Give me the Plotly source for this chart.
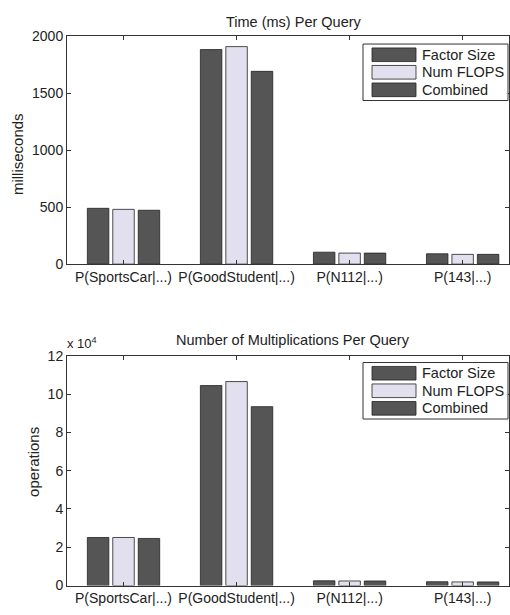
import plotly.graph_objects as go

categories = ["P(SportsCar|...)", "P(GoodStudent|...)", "P(N112|...)", "P(143|...)"]
series_names = ["Factor Size", "Num FLOPS", "Combined"]
time_factor = [490, 1883, 105, 91]
time_flops = [481, 1909, 97, 86]
time_combined = [473, 1692, 97, 86]
ops_factor = [25100, 104400, 2500, 2000]
ops_flops = [25100, 106500, 2400, 1900]
ops_combined = [24600, 93400, 2400, 1900]
time_ticks = [0, 500, 1000, 1500, 2000]
ops_ticks = [0, 20000, 40000, 60000, 80000, 100000, 120000]
ops_ticktext = ["0", "2", "4", "6", "8", "10", "12"]

colors = ["#555555", "#e2e0ef", "#555555"]
offsets = [-0.32, -0.095, 0.13]
xpos = [1, 2, 3, 4]

FONT = "Liberation Sans, Arial, sans-serif"
W, H = 510, 615

fig = go.Figure()
for i, (vals_t, vals_o) in enumerate(zip([time_factor, time_flops, time_combined],
                                        [ops_factor, ops_flops, ops_combined])):
    fig.add_trace(go.Bar(x=xpos, y=vals_t, name=series_names[i], width=0.19, offset=offsets[i],
                         marker=dict(color=colors[i], line=dict(color="#222222", width=0.8)),
                         xaxis="x", yaxis="y", showlegend=False))
    fig.add_trace(go.Bar(x=xpos, y=vals_o, name=series_names[i], width=0.19, offset=offsets[i],
                         marker=dict(color=colors[i], line=dict(color="#222222", width=0.8)),
                         xaxis="x2", yaxis="y2", showlegend=False))

xd = [67 / W, 509 / W]
top_dom = [(H - 263) / H, (H - 29) / H]
bot_dom = [(H - 593) / H, (H - 357) / H]

axis_common = dict(showline=True, linecolor="#333333", linewidth=1, mirror="ticks",
                   ticks="inside", ticklen=4, tickcolor="#333333", showgrid=False,
                   zeroline=False, tickfont=dict(family=FONT, size=14, color="#222222"))

fig.update_layout(
    width=W, height=H, margin=dict(l=0, r=0, t=0, b=0),
    paper_bgcolor="white", plot_bgcolor="white", barmode="overlay",
    font=dict(family=FONT, size=12, color="#222222"),
    xaxis=dict(domain=xd, anchor="y", range=[0.5, 4.41], tickvals=xpos, ticktext=categories, **axis_common),
    yaxis=dict(domain=top_dom, anchor="x", range=[0, 2000], tickvals=time_ticks, **axis_common),
    xaxis2=dict(domain=xd, anchor="y2", range=[0.5, 4.41], tickvals=xpos, ticktext=categories, **axis_common),
    yaxis2=dict(domain=bot_dom, anchor="x2", range=[0, 120000], tickvals=ops_ticks, ticktext=ops_ticktext, **axis_common),
)

def px(x):
    return x / W

def py(y):
    return (H - y) / H

ann = [
    dict(text="Time (ms) Per Query", x=px(294), y=py(14), size=14.5),
    dict(text="Number of Multiplications Per Query", x=px(293), y=py(341), size=14.5),
    dict(text="milliseconds", x=px(17), y=py(150), textangle=-90, size=15),
    dict(text="operations", x=px(34), y=py(466), textangle=-90, size=15),
    dict(text="x 10<sup>4</sup>", x=px(82), y=py(344), size=13),
]
annotations = []
for a in ann:
    size = a.pop("size")
    d = dict(xref="paper", yref="paper", showarrow=False, xanchor="center", yanchor="middle",
             font=dict(family=FONT, size=size, color="#222222"))
    d.update(a)
    annotations.append(d)

shapes = []
# manual legends (Matlab-style wide swatches)
for top in (37, 364):
    shapes.append(dict(type="rect", xref="paper", yref="paper", x0=px(363), x1=px(508),
                       y0=py(top + 58), y1=py(top), line=dict(color="#333333", width=1),
                       fillcolor="white", layer="above"))
    for j, name in enumerate(series_names):
        yc = top + 11 + j * 18
        shapes.append(dict(type="rect", xref="paper", yref="paper", x0=px(372), x1=px(416),
                           y0=py(yc + 7), y1=py(yc - 7), fillcolor=colors[j],
                           line=dict(color="#222222", width=0.8), layer="above"))
        annotations.append(dict(xref="paper", yref="paper", x=px(420), y=py(yc), text=name,
                                showarrow=False, xanchor="left", yanchor="middle",
                                font=dict(family=FONT, size=14.5, color="#222222")))

fig.update_layout(annotations=annotations, shapes=shapes)
fig.write_html("out.html")
